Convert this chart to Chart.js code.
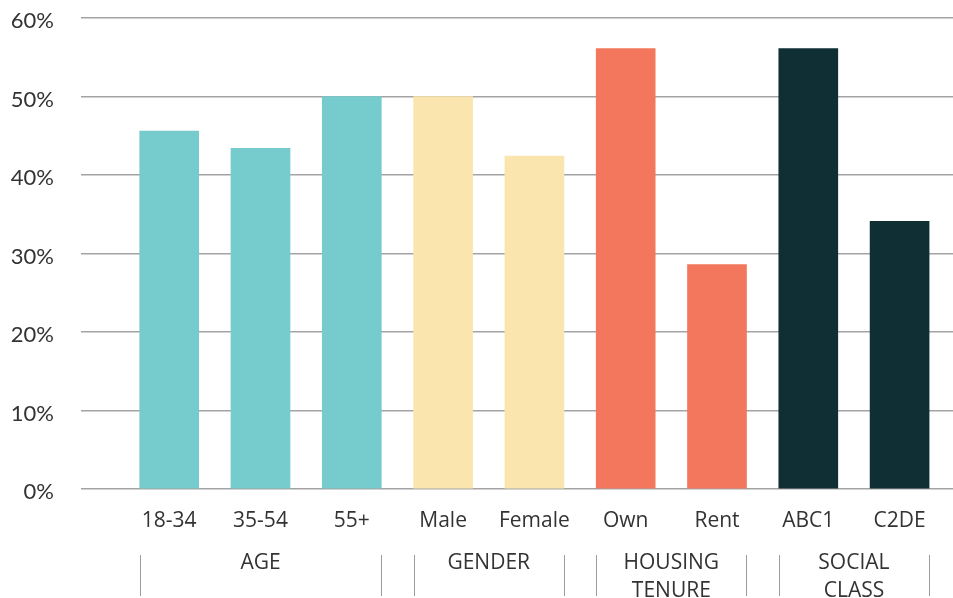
<!DOCTYPE html>
<html>
<head>
<meta charset="utf-8">
<script src="https://cdn.jsdelivr.net/npm/chart.js@4"></script>
<style>
    body { margin: 0; background: #ffffff; }
    #wrap { width: 953px; height: 598px; }
</style>
</head>
<body>
<div id="wrap"><canvas id="barChart" width="953" height="598"></canvas></div>
<script>
const categories = ["18-34", "35-54", "55+", "Male", "Female", "Own", "Rent", "ABC1", "C2DE"];
const values = [45.6, 43.4, 50.0, 50.0, 42.4, 56.1, 28.6, 56.1, 34.1]; // percent
const groupNames = [["AGE"], ["GENDER"], ["HOUSING", "TENURE"], ["SOCIAL", "CLASS"]];
const groupSizes = [3, 2, 2, 2];
const yTicks = [0, 10, 20, 30, 40, 50, 60];

const groupColors = ["#76CBCC", "#FAE5AE", "#F2775C", "#0F2F35"];
const BAR_W = 59;

// colour of each bar follows its group
const barColors = [];
groupSizes.forEach((n, g) => { for (let k = 0; k < n; k++) barColors.push(groupColors[g]); });

// group labels + separator ticks under the category labels
const groupAxis = {
    id: "groupAxis",
    afterDraw(chart) {
        const ctx = chart.ctx;
        const x = chart.scales.x;
        ctx.save();
        ctx.strokeStyle = "#9c9c9c";
        ctx.lineWidth = 1;
        ctx.fillStyle = "#333333";
        ctx.font = "21px 'Open Sans'";
        ctx.textAlign = "center";
        ctx.textBaseline = "middle";
        let start = 0;
        groupSizes.forEach((n, g) => {
            const first = x.getPixelForValue(start);
            const last = x.getPixelForValue(start + n - 1);
            const left = Math.round(first - BAR_W / 2) + 0.5;
            const right = Math.round(last + BAR_W / 2) + 0.5;
            [left, right].forEach(px => {
                ctx.beginPath();
                ctx.moveTo(px, 555);
                ctx.lineTo(px, 596);
                ctx.stroke();
            });
            groupNames[g].forEach((line, j) => {
                ctx.fillText(line, (first + last) / 2, 563 + j * 28);
            });
            start += n;
        });
        ctx.restore();
    }
};

const ctx = document.getElementById("barChart").getContext("2d");

const barChart = new Chart(ctx, {
    type: "bar",
    data: {
        datasets: [{
            data: values.map((v, i) => ({ x: i, y: v })),
            backgroundColor: barColors,
            borderWidth: 0,
            barThickness: BAR_W,
        }],
    },
    options: {
        responsive: false,
        animation: false,
        layout: { padding: { top: 18, right: 0, left: 0, bottom: 0 } },
        plugins: {
            legend: { display: false },
            tooltip: { enabled: false },
        },
        scales: {
            x: {
                type: "linear",
                min: -0.966,
                max: 8.585,
                bounds: "data",
                offset: false,
                grid: { display: false, offset: false },
                border: { display: false },
                afterBuildTicks: (scale) => {
                    scale.ticks = categories.map((c, i) => ({ value: i }));
                },
                afterFit: (scale) => {
                    scale.height = 109;
                    scale.paddingLeft = 0;
                    scale.paddingRight = 0;
                },
                ticks: {
                    autoSkip: false,
                    maxRotation: 0,
                    padding: 11,
                    color: "#333333",
                    font: { family: "'Open Sans'", size: 21 },
                    callback: (v) => categories[v],
                },
            },
            y: {
                min: 0,
                max: 60,
                afterBuildTicks: (scale) => {
                    scale.ticks = yTicks.map(v => ({ value: v }));
                },
                afterFit: (scale) => {
                    scale.width = 81;
                    scale.paddingTop = 0;
                    scale.paddingBottom = 0;
                },
                grid: {
                    color: "#a3a3a3",
                    lineWidth: 1.5,
                    drawTicks: false,
                },
                border: { display: false },
                ticks: {
                    padding: 27,
                    labelOffset: 3,
                    color: "#333333",
                    font: { family: "Lato", size: 22 },
                    callback: (v) => v + "%",
                },
            },
        },
    },
    plugins: [groupAxis],
});
</script>
</body>
</html>
